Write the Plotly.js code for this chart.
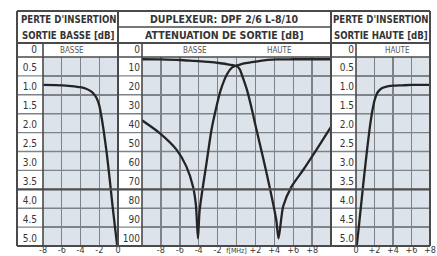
<!DOCTYPE html>
<html><head><meta charset="utf-8">
<script src="https://cdn.plot.ly/plotly-3.0.1.min.js"></script>
<style>html,body{margin:0;padding:0;background:#fff}#chart{width:437px;height:256px}</style>
</head><body><div id="chart"></div>
<script>
// ---- data ----
// Left panel: insertion loss of the low output [dB] vs frequency offset [MHz]
const lowLossX = [-8, -6, -5, -4, -3.4, -3.0, -2.6, -2.3, -2.0, -1.75, -1.5, -1.2, -0.9, -0.6, -0.3, -0.08];
const lowLossY = [0.74, 0.75, 0.77, 0.8, 0.84, 0.89, 0.97, 1.08, 1.28, 1.6, 2.0, 2.55, 3.2, 3.9, 4.55, 5.0];
// Right panel: insertion loss of the high output [dB]
const highLossX = [0.08, 0.3, 0.6, 0.9, 1.2, 1.5, 1.75, 2.0, 2.3, 2.7, 3.2, 4, 5, 6, 8];
const highLossY = [5.0, 4.5, 3.8, 3.1, 2.45, 1.85, 1.45, 1.15, 0.95, 0.84, 0.79, 0.76, 0.75, 0.74, 0.74];
// Middle panel: output attenuation [dB]
const attBasseX = [-10, -8, -6, -4.5, -3, -1.7, -0.8, 0, 0.35, 0.6, 1.13, 1.66, 2.0, 2.8, 3.5, 4.2, 4.45, 4.94, 5.82, 7.05, 8.47, 10];
const attBasseY = [1.2, 1.3, 1.6, 2.1, 2.6, 3.3, 4.0, 4.8, 6.5, 9.9, 17.8, 28.4, 36, 53, 68.6, 86, 96, 79, 68.6, 59.8, 49, 37];
const attHauteX = [-10, -8.1, -6.35, -5.3, -4.6, -4.3, -4.08, -3.9, -3.17, -2.65, -2.22, -1.69, -0.99, -0.46, 0, 0.6, 1.48, 2.5, 4.3, 6, 10];
const attHauteY = [33.5, 40.4, 49, 58, 68.6, 78, 96, 81, 56, 38.6, 28.4, 17.8, 9, 5.5, 4.6, 3.6, 2.9, 2.0, 1.3, 1.2, 1.2];

// ---- ticks ----
const lossTicks = [0, 0.5, 1, 1.5, 2, 2.5, 3, 3.5, 4, 4.5, 5];
const lossTickText = ["0", "0.5", "1.0", "1.5", "2.0", "2.5", "3.0", "3.5", "4.0", "4.5", "5.0"];
const attTicks = [0, 10, 20, 30, 40, 50, 60, 70, 80, 90, 100];
const attTickText = ["0", "10", "20", "30", "40", "50", "60", "70", "80", "90", "100"];
const leftFreqTicks = [-8, -6, -4, -2, 0];
const leftFreqText = ["-8", "-6", "-4", "-2", "0"];
const midFreqTicks = [-8, -6, -4, -2, 0, 2, 4, 6, 8];
const midFreqText = ["-8", "-6", "-4", "-2", "f[MHz]", "+2", "+4", "+6", "+8"];
const rightFreqTicks = [0, 2, 4, 6, 8];
const rightFreqText = ["0", "+2", "+4", "+6", "+8"];

// ---- layout geometry (pixels) ----
const W = 437, H = 256;
const px = v => v / W, py = v => 1 - v / H;
const FL = 17, FR = 430, FT = 11, FB = 246, TB = 43, HB = 57, MS = 27;
const LP = 43, S1 = 118, MP = 142, S2 = 331, RP = 356;

const FONT = "'Liberation Sans Narrow', 'DejaVu Sans Condensed', 'Arial Narrow', sans-serif";
const TXT = '#353535';
const GRID = '#7f8389';
const FRAME = '#4a4a4a';
const CURVE = '#242424';

const lineStyle = {color: CURVE, width: 2.3, shape: 'spline', smoothing: 0.7};
const traces = [
  {x: lowLossX, y: lowLossY, xaxis: 'x', yaxis: 'y', mode: 'lines', line: lineStyle, hoverinfo: 'skip'},
  {x: attBasseX, y: attBasseY, xaxis: 'x2', yaxis: 'y2', mode: 'lines', line: lineStyle, hoverinfo: 'skip'},
  {x: attHauteX, y: attHauteY, xaxis: 'x2', yaxis: 'y2', mode: 'lines', line: lineStyle, hoverinfo: 'skip'},
  {x: highLossX, y: highLossY, xaxis: 'x3', yaxis: 'y3', mode: 'lines', line: lineStyle, hoverinfo: 'skip'}
];

const tickFont = {family: FONT, size: 10, color: TXT};
function xAx(dom, range, vals, text, anchor) {
  return {domain: dom, range: range, anchor: anchor, tickvals: vals,
    ticktext: text.map(t => t.length > 3 ? '<span style="font-size:7px">' + t + '</span>' : t),
    showgrid: true, gridcolor: GRID, gridwidth: 1.4, zeroline: false, showline: false, tickangle: 0,
    ticks: '', ticklen: 0, ticklabelstandoff: -3, tickfont: {family: FONT, size: 9, color: TXT}, fixedrange: true};
}
function yAx(range, vals, text, anchor, standoff) {
  return {domain: [py(FB), py(HB)], range: range, anchor: anchor, tickvals: vals, ticktext: text,
    showgrid: true, gridcolor: GRID, gridwidth: 1.4, zeroline: false, showline: false,
    ticks: '', ticklen: 0, tickfont: tickFont, ticklabelstandoff: standoff, ticklabelshift: 8, fixedrange: true};
}

const shapes = [];
function hline(y0px, x0px, x1px, w, c) {
  shapes.push({type: 'line', xref: 'paper', yref: 'paper', x0: px(x0px), x1: px(x1px), y0: py(y0px), y1: py(y0px),
    line: {color: c, width: w}, layer: 'above'});
}
function vline(xpx, y0px, y1px, w, c) {
  shapes.push({type: 'line', xref: 'paper', yref: 'paper', x0: px(xpx), x1: px(xpx), y0: py(y0px), y1: py(y1px),
    line: {color: c, width: w}, layer: 'above'});
}
// horizontal grid lines through the label columns, tied to the loss axis scale
lossTicks.forEach(v => {
  if (v === 0 || v === 5) return;
  const thick = v === 3.5;
  shapes.push({type: 'line', xref: 'paper', yref: 'y', x0: px(FL), x1: px(FR), y0: v, y1: v,
    line: {color: thick ? '#4d4d4d' : GRID, width: thick ? 2.2 : 1.4}, layer: thick ? 'above' : 'below'});
});
// frame
hline(FT, FL, FR, 2, FRAME);
hline(FB, FL, FR, 2, FRAME);
hline(TB, FL, FR, 1.8, FRAME);
hline(HB, FL, FR, 1.6, FRAME);
hline(MS, S1, S2, 1.6, FRAME);
vline(FL, FT, FB, 2, FRAME);
vline(FR, FT, FB, 2, FRAME);
vline(S1, FT, FB, 2, FRAME);
vline(S2, FT, FB, 2, FRAME);
vline(LP, TB, FB, 1.6, FRAME);
vline(MP, TB, FB, 1.6, FRAME);
vline(RP, TB, FB, 1.6, FRAME);

const sideTitleFont = {family: FONT, size: 9.6, color: TXT, weight: 'bold'};
const midTitleFont = {family: FONT, size: 10.5, color: TXT, weight: 'bold'};
const headFont = {family: FONT, size: 8, color: '#555'};
function ann(text, xpx, ypx, font) {
  return {text: text, xref: 'paper', yref: 'paper', x: px(xpx), y: py(ypx), showarrow: false,
    xanchor: 'center', yanchor: 'middle', font: font};
}
function hann(text, xv, xref) {
  return {text: text, xref: xref, yref: 'paper', x: xv, y: py(50), showarrow: false,
    xanchor: 'center', yanchor: 'middle', font: headFont};
}
const annotations = [
  ann("PERTE D'INSERTION", (FL + S1) / 2 + 0.5, 19, sideTitleFont),
  ann("SORTIE BASSE [dB]", (FL + S1) / 2 + 0.5, 35, sideTitleFont),
  ann("DUPLEXEUR: DPF 2/6 L-8/10", (S1 + S2) / 2, 19, midTitleFont),
  ann("ATTENUATION DE SORTIE [dB]", (S1 + S2) / 2, 35, midTitleFont),
  ann("PERTE D'INSERTION", (S2 + FR) / 2, 19, sideTitleFont),
  ann("SORTIE HAUTE [dB]", (S2 + FR) / 2, 35, sideTitleFont),
  hann("BASSE", -4.9, 'x'),
  hann("BASSE", -4.4, 'x2'),
  hann("HAUTE", 4.5, 'x2'),
  hann("HAUTE", 4.5, 'x3')
];

const layout = {
  width: W, height: H, margin: {l: 0, r: 0, t: 0, b: 0},
  paper_bgcolor: '#ffffff', plot_bgcolor: '#dde3ea', showlegend: false,
  xaxis: xAx([px(LP), px(S1)], [-8, 0], leftFreqTicks, leftFreqText, 'y'),
  yaxis: yAx([5, 0], lossTicks, lossTickText, 'x', 5),
  xaxis2: xAx([px(MP), px(S2)], [-10, 10], midFreqTicks, midFreqText, 'y2'),
  yaxis2: yAx([100, 0], attTicks, attTickText, 'x2', 1),
  xaxis3: xAx([px(RP), px(FR)], [0, 8], rightFreqTicks, rightFreqText, 'y3'),
  yaxis3: yAx([5, 0], lossTicks, lossTickText, 'x3', 1),
  shapes: shapes, annotations: annotations
};
Plotly.newPlot('chart', traces, layout, {staticPlot: true, displayModeBar: false});
</script></body></html>
